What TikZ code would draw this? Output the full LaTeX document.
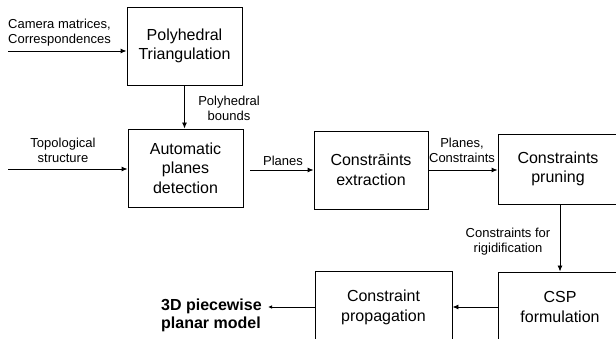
\documentclass[tikz,border=0pt]{standalone}
\usepackage{fontspec}
\setmainfont{Liberation Sans}
\usetikzlibrary{arrows.meta,calc}
\begin{document}
\begin{tikzpicture}[x=1pt,y=-1pt,
  blk/.style={draw,line width=0.9pt,inner sep=0pt,align=center,
    font=\fontsize{16}{19.5}\selectfont},
  lbl/.style={inner sep=0pt,align=center,font=\fontsize{13}{15}\selectfont},
  arr/.style={line width=0.9pt,-{Latex[length=6pt,width=5pt]}},
  sarr/.style={line width=0.9pt,-{Latex[length=4pt,width=3.5pt]}}]
\useasboundingbox (0,0) rectangle (616,339);
\clip (0,0) rectangle (616,339);
% boxes
\node[blk,minimum width=115pt,minimum height=78pt] (b1) at (184.5,46) {Polyhedral\\Triangulation};
\node[blk,minimum width=115pt,minimum height=78pt] (b2) at (185.5,168) {Automatic\\planes\\detection};
\node[blk,minimum width=114pt,minimum height=78pt] (b3) at (371,170) {Constr\={a}ints\\extraction};
\node[blk,minimum width=120pt,minimum height=70pt] (b4) at (558,169) {Constraints\\pruning};
\node[blk,minimum width=124pt,minimum height=70pt] (b5) at (560,307) {CSP\\formulation};
\node[blk,minimum width=137pt,minimum height=72pt] (b6) at (383.5,307.5) {Constraint\\propagation};
% output text
\node[inner sep=0pt,align=left,anchor=west,font=\fontsize{16}{18}\selectfont\bfseries] (out) at (161,315) {3D piecewise\\planar model};
\coordinate (outtip) at (268,307);
% input coordinates
\coordinate (cam) at (8,51);
\coordinate (topo) at (8,169);
% connectors
\draw[arr] (cam) -- (cam -| b1.west);
\draw[arr] (b1.south) -- (b1.south |- b2.north);
\draw[arr] (topo) -- (topo -| b2.west);
\draw[arr,shorten <=7pt] (b2.east |- b3.west) -- (b3.west);
\draw[arr] (b3.east) -- (b3.east -| b4.west);
\draw[arr] (b5.north |- b4.south) -- (b5.north);
\draw[arr] (b5.west |- 0,307) -- (b6.east |- 0,307);
\draw[sarr] (b6.west |- outtip) -- (outtip);
% labels
\node[lbl,align=left,anchor=west] (lcam) at (8,32.5) {Camera matrices,\\Correspondences};
\node[lbl] (lpoly) at (229,108) {Polyhedral\\bounds};
\node[lbl] (ltopo) at (63,150) {Topological\\structure};
\node[lbl] (lplanes) at (283,161) {Planes};
\node[lbl] (lpc) at (462,150.5) {Planes,\\Constraints};
\node[lbl] (lrig) at (508,241.5) {Constraints for\\rigidification};
\end{tikzpicture}
\end{document}
